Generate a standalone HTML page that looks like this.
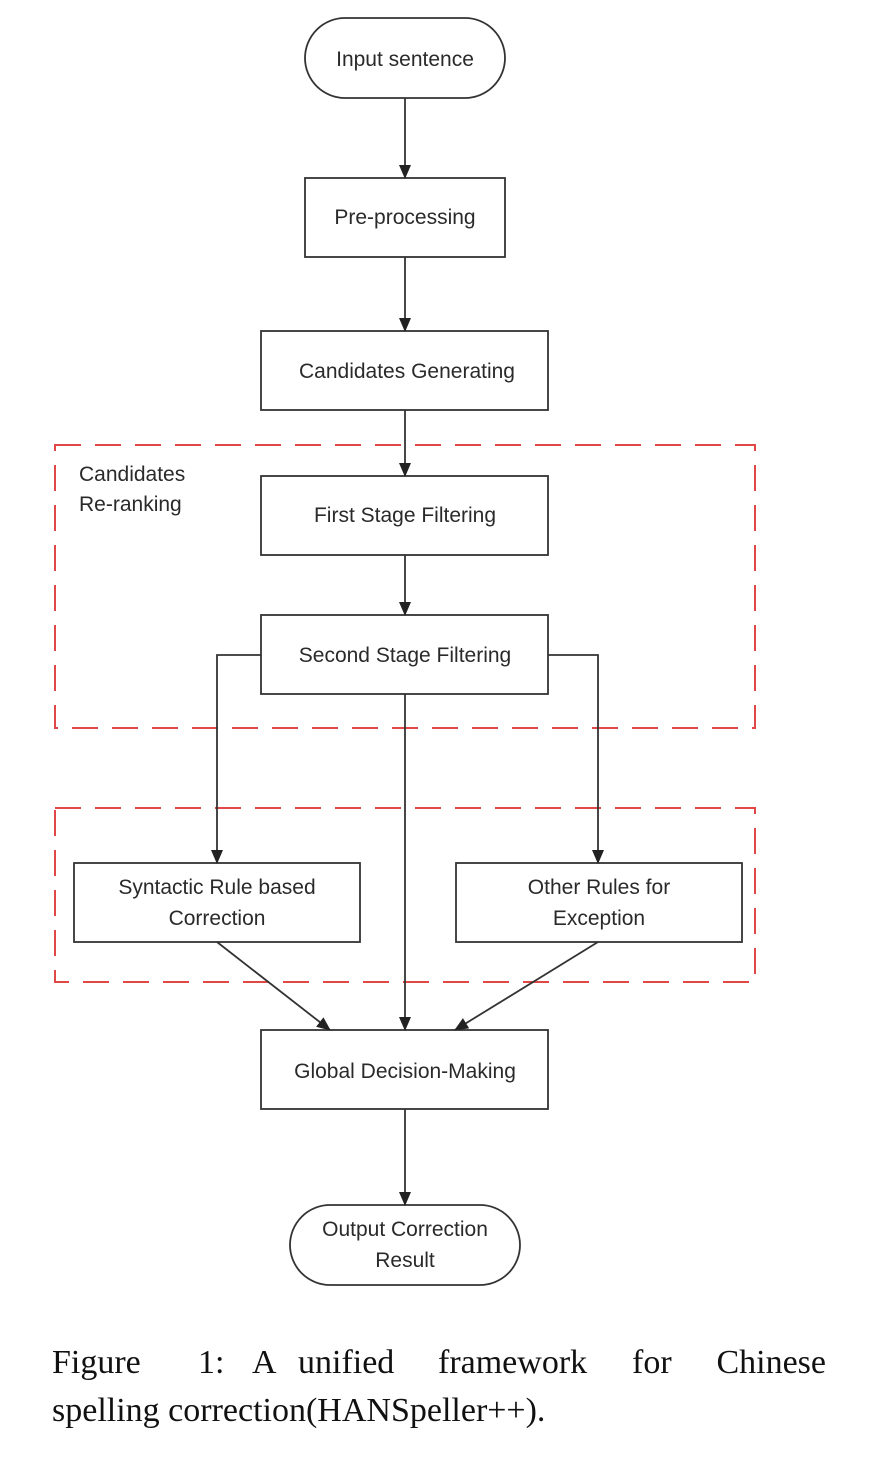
<!DOCTYPE html>
<html><head><meta charset="utf-8"><style>
html,body{margin:0;padding:0;background:#fff;}
svg{display:block;}
text{font-family:"Liberation Sans",sans-serif;font-size:21px;fill:#2a2a2a;}
.cap{font-family:"Liberation Serif",serif;font-size:34px;fill:#111;}
</style></head><body>
<svg width="869" height="1462" viewBox="0 0 869 1462" xmlns="http://www.w3.org/2000/svg">
<defs><marker id="a" markerWidth="14" markerHeight="12" refX="13" refY="6" orient="auto" markerUnits="userSpaceOnUse"><path d="M0,0 L14,6 L0,12 z" fill="#222"/></marker></defs>
<g fill="none" stroke="#e04848" stroke-width="2" stroke-dasharray="26,14">
<rect x="55" y="445" width="700" height="283"/>
<rect x="55" y="808" width="700" height="174"/>
</g>
<g fill="#fff" stroke="#333" stroke-width="1.8">
<rect x="305" y="18" width="200" height="80" rx="40"/>
<rect x="305" y="178" width="200" height="79"/>
<rect x="261" y="331" width="287" height="79"/>
<rect x="261" y="476" width="287" height="79"/>
<rect x="261" y="615" width="287" height="79"/>
<rect x="74" y="863" width="286" height="79"/>
<rect x="456" y="863" width="286" height="79"/>
<rect x="261" y="1030" width="287" height="79"/>
<rect x="290" y="1205" width="230" height="80" rx="40"/>
</g>
<g stroke="#333" stroke-width="1.8" fill="none" marker-end="url(#a)">
<line x1="405" y1="98" x2="405" y2="178"/>
<line x1="405" y1="257" x2="405" y2="331"/>
<line x1="405" y1="410" x2="405" y2="476"/>
<line x1="405" y1="555" x2="405" y2="615"/>
<polyline points="261,655 217,655 217,863"/>
<polyline points="548,655 598,655 598,863"/>
<line x1="405" y1="694" x2="405" y2="1030"/>
<line x1="217" y1="942" x2="330" y2="1030"/>
<line x1="598" y1="942" x2="455" y2="1030"/>
<line x1="405" y1="1109" x2="405" y2="1205"/>
</g>
<g text-anchor="middle">
<text x="405" y="66">Input sentence</text>
<text x="405" y="224">Pre-processing</text>
<text x="407" y="378">Candidates Generating</text>
<text x="405" y="522">First Stage Filtering</text>
<text x="405" y="662">Second Stage Filtering</text>
<text x="217" y="894">Syntactic Rule based</text>
<text x="217" y="925">Correction</text>
<text x="599" y="894">Other Rules for</text>
<text x="599" y="925">Exception</text>
<text x="405" y="1078">Global Decision-Making</text>
<text x="405" y="1236">Output Correction</text>
<text x="405" y="1267">Result</text>
</g>
<text x="79" y="481">Candidates</text>
<text x="79" y="511">Re-ranking</text>
<text class="cap" x="52" y="1373">Figure</text>
<text class="cap" x="198" y="1373">1:</text>
<text class="cap" x="252" y="1373">A</text>
<text class="cap" x="298" y="1373">unified</text>
<text class="cap" x="438" y="1373">framework</text>
<text class="cap" x="632" y="1373">for</text>
<text class="cap" x="826" y="1373" text-anchor="end">Chinese</text>
<text class="cap" x="52" y="1421">spelling correction(HANSpeller++).</text>
</svg>
</body></html>
